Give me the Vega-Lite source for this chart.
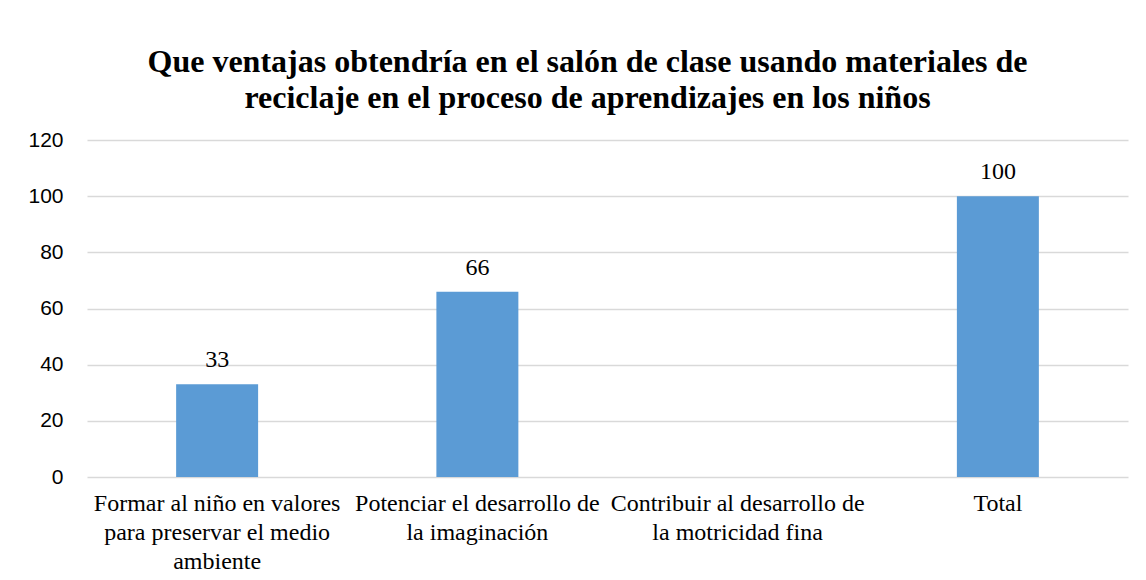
{
  "$schema": "https://vega.github.io/schema/vega-lite/v6.json",
  "width": 1041,
  "height": 337,
  "autosize": {"type": "none"},
  "padding": {"left": 87, "top": 140, "right": 18, "bottom": 103},
  "background": "white",
  "title": {
    "text": ["Que ventajas obtendría en el salón de clase usando materiales de", "reciclaje en el proceso de aprendizajes en los niños"],
    "font": "Liberation Serif",
    "fontSize": 32,
    "fontWeight": "bold",
    "color": "#000000",
    "lineHeight": 36,
    "anchor": "middle",
    "frame": "group",
    "dx": -20,
    "offset": 14
  },
  "data": {
    "values": [
      {"categoria": "Formar al niño en valores|para preservar el medio|ambiente", "valor": 33},
      {"categoria": "Potenciar el desarrollo de|la imaginación", "valor": 66},
      {"categoria": "Contribuir al desarrollo de|la motricidad fina", "valor": 0},
      {"categoria": "Total", "valor": 100}
    ]
  },
  "encoding": {
    "x": {
      "field": "categoria",
      "type": "nominal",
      "sort": null,
      "scale": {"paddingInner": 0.685, "paddingOuter": 0.3425},
      "axis": {
        "title": null,
        "labelAngle": 0,
        "labelExpr": "split(datum.label, '|')",
        "labelFont": "Liberation Serif",
        "labelFontSize": 24,
        "labelLineHeight": 29,
        "labelColor": "#000000",
        "labelPadding": 14,
        "labelLimit": 400,
        "ticks": false,
        "domain": false,
        "grid": false
      }
    },
    "y": {
      "field": "valor",
      "type": "quantitative",
      "scale": {"domain": [0, 120]},
      "axis": {
        "title": null,
        "values": [0, 20, 40, 60, 80, 100, 120],
        "labelFont": "Liberation Sans",
        "labelFontSize": 21,
        "labelColor": "#000000",
        "labelPadding": 24,
        "ticks": false,
        "domain": false,
        "gridColor": "#D9D9D9",
        "gridWidth": 1.5
      }
    }
  },
  "layer": [
    {"mark": {"type": "bar", "color": "#5B9BD5"}},
    {
      "transform": [{"filter": "datum.valor > 0"}],
      "mark": {"type": "text", "font": "Liberation Serif", "fontSize": 24, "color": "#000000", "baseline": "bottom", "dy": -12},
      "encoding": {"text": {"field": "valor", "type": "quantitative"}}
    }
  ],
  "config": {"view": {"stroke": null}}
}
